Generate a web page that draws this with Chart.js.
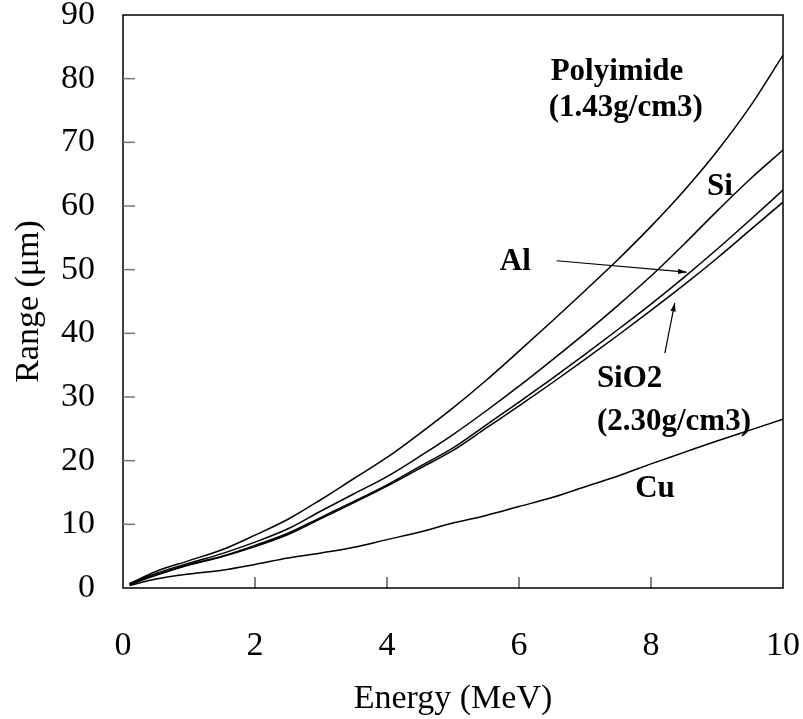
<!DOCTYPE html>
<html>
<head>
<meta charset="utf-8">
<script src="https://cdn.jsdelivr.net/npm/chart.js@4.4.1/dist/chart.umd.min.js"></script>
<style>
  body { margin: 0; background: #fff; }
</style>
</head>
<body>
<canvas id="myChart" width="803" height="719"></canvas>
<script>
const energy = [0.1, 0.5, 1, 1.5, 2, 2.5, 3, 3.5, 4, 4.5, 5, 5.5, 6, 6.5, 7, 7.5, 8, 8.5, 9, 9.5, 10];

const polyimide = [0.7, 2.6, 4.3, 6.0, 8.3, 10.8, 13.9, 17.2, 20.5, 24.3, 28.3, 32.6, 37.2, 41.9, 46.7, 51.6, 56.8, 62.4, 68.6, 75.6, 83.7];
const si = [0.6, 2.3, 3.9, 5.4, 7.2, 9.3, 12.1, 14.8, 17.5, 20.7, 24.1, 27.8, 31.7, 35.8, 40.0, 44.4, 49.0, 54.0, 59.2, 64.2, 68.8];
const al = [0.6, 2.1, 3.7, 5.0, 6.7, 8.6, 11.1, 13.6, 16.2, 19.1, 22.0, 25.6, 29.2, 32.9, 36.7, 40.6, 44.6, 48.8, 53.2, 57.8, 62.5];
const sio2 = [0.5, 2.0, 3.6, 4.9, 6.5, 8.4, 10.9, 13.4, 16.0, 18.8, 21.6, 25.1, 28.6, 32.2, 35.9, 39.7, 43.6, 47.6, 51.8, 56.2, 60.6];
const cu = [0.4, 1.4, 2.2, 2.8, 3.7, 4.7, 5.5, 6.4, 7.6, 8.8, 10.2, 11.4, 12.8, 14.2, 15.9, 17.6, 19.5, 21.3, 23.1, 24.8, 26.5];

const xTicks = [0, 2, 4, 6, 8, 10];
const yTicks = [0, 10, 20, 30, 40, 50, 60, 70, 80, 90];

// text labels and arrows, in data units
const labels = [
  { text: "Polyimide", x: 6.48, y: 81.0 },
  { text: "(1.43g/cm3)", x: 6.45, y: 75.4 },
  { text: "Si", x: 8.85, y: 63.0 },
  { text: "Al", x: 5.71, y: 51.2 },
  { text: "SiO2", x: 7.18, y: 32.8 },
  { text: "(2.30g/cm3)", x: 7.18, y: 26.1 },
  { text: "Cu", x: 7.76, y: 15.5 },
];
const arrows = [
  { from: [6.57, 51.4], to: [8.54, 49.6] },
  { from: [8.21, 36.9], to: [8.36, 44.8] },
];

function toPoints(values) {
  return energy.map((e, i) => ({ x: e, y: values[i] }));
}

function series(label, values) {
  return {
    label: label,
    data: toPoints(values),
    borderColor: "#000",
    borderWidth: 1.5,
    pointRadius: 0,
    cubicInterpolationMode: "monotone",
    fill: false,
  };
}

// no extra room for edge labels, the layout padding sets the plot box
function noEdgePadding(s) {
  s.paddingLeft = 0;
  s.paddingRight = 0;
  s.paddingTop = 0;
  s.paddingBottom = 0;
}

const frame = {
  id: "frame",
  afterDraw(chart) {
    const { ctx, chartArea: a, scales } = chart;
    ctx.save();
    ctx.strokeStyle = "#000";
    ctx.lineWidth = 1.5;
    ctx.strokeRect(a.left, a.top, a.right - a.left, a.bottom - a.top);

    // inside tick marks
    ctx.lineWidth = 1.5;
    ctx.strokeStyle = "#777";
    yTicks.slice(1, -1).forEach((v) => {
      const py = scales.y.getPixelForValue(v);
      ctx.beginPath();
      ctx.moveTo(a.left, py);
      ctx.lineTo(a.left + 12, py);
      ctx.stroke();
    });
    ctx.strokeStyle = "#000";
    ctx.lineWidth = 1;
    xTicks.slice(1, -1).forEach((v) => {
      const px = scales.x.getPixelForValue(v);
      ctx.beginPath();
      ctx.moveTo(px, a.bottom);
      ctx.lineTo(px, a.bottom - 11);
      ctx.stroke();
    });

    // annotations
    ctx.fillStyle = "#000";
    ctx.font = "bold 31px 'Liberation Serif'";
    ctx.textAlign = "left";
    ctx.textBaseline = "middle";
    labels.forEach((l) => {
      ctx.fillText(l.text, scales.x.getPixelForValue(l.x), scales.y.getPixelForValue(l.y));
    });
    ctx.lineWidth = 1.2;
    arrows.forEach((ar) => {
      const x1 = scales.x.getPixelForValue(ar.from[0]);
      const y1 = scales.y.getPixelForValue(ar.from[1]);
      const x2 = scales.x.getPixelForValue(ar.to[0]);
      const y2 = scales.y.getPixelForValue(ar.to[1]);
      const ang = Math.atan2(y2 - y1, x2 - x1);
      ctx.beginPath();
      ctx.moveTo(x1, y1);
      ctx.lineTo(x2, y2);
      ctx.stroke();
      ctx.beginPath();
      ctx.moveTo(x2, y2);
      ctx.lineTo(x2 - 9 * Math.cos(ang - 0.3), y2 - 9 * Math.sin(ang - 0.3));
      ctx.lineTo(x2 - 9 * Math.cos(ang + 0.3), y2 - 9 * Math.sin(ang + 0.3));
      ctx.closePath();
      ctx.fill();
    });
    ctx.restore();
  },
};

const ctx = document.getElementById("myChart");

const chart = new Chart(ctx, {
  type: "scatter",
  data: {
    datasets: [
      series("Polyimide", polyimide),
      series("Si", si),
      series("Al", al),
      series("SiO2", sio2),
      series("Cu", cu),
    ],
  },
  options: {
    responsive: false,
    animation: false,
    showLine: true,
    layout: {
      padding: { top: 15, right: 20, left: 0, bottom: 0 },
    },
    scales: {
      x: {
        type: "linear",
        min: 0,
        max: 10,
        afterFit: (s) => { s.height = 131; noEdgePadding(s); },
        afterBuildTicks: (s) => { s.ticks = xTicks.map((v) => ({ value: v })); },
        grid: { display: false, drawTicks: false },
        border: { display: false },
        ticks: {
          color: "#000",
          padding: 38,
          maxRotation: 0,
          font: { family: "'Liberation Serif'", size: 34 },
        },
        title: {
          display: true,
          text: "Energy (MeV)",
          color: "#000",
          padding: { top: 0, bottom: 0 },
          font: { family: "'Liberation Serif'", size: 34 },
        },
      },
      y: {
        min: 0,
        max: 90,
        afterFit: (s) => { s.width = 123; noEdgePadding(s); },
        afterBuildTicks: (s) => { s.ticks = yTicks.map((v) => ({ value: v })); },
        grid: { display: false, drawTicks: false },
        border: { display: false },
        ticks: {
          color: "#000",
          padding: 28,
          font: { family: "'Liberation Serif'", size: 34 },
        },
        title: {
          display: true,
          text: "Range (\u03bcm)",
          color: "#000",
          padding: { top: 9, bottom: 0 },
          font: { family: "'Liberation Serif'", size: 34 },
        },
      },
    },
    plugins: {
      legend: { display: false },
      tooltip: { enabled: false },
    },
  },
  plugins: [frame],
});
</script>
</body>
</html>
